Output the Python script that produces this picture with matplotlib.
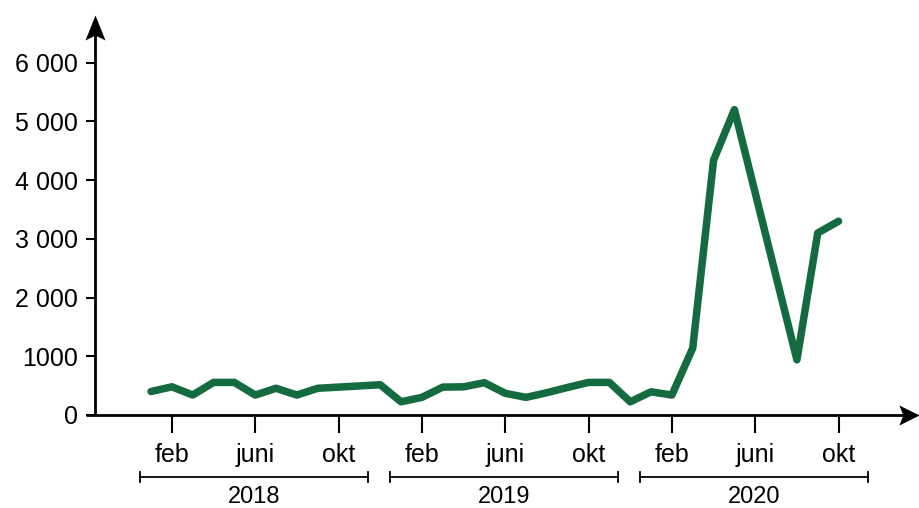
import matplotlib.pyplot as plt
from matplotlib.path import Path
from matplotlib.transforms import blended_transform_factory

plt.rcParams["font.family"] = ["Liberation Sans", "DejaVu Sans"]

# monthly values, jan 2018 - okt 2020
values_2018 = [400, 480, 340, 555, 555, 340, 455, 340, 455, 475, 495, 515]
values_2019 = [225, 300, 475, 480, 550, 370, 300, 380, 470, 555, 555, 225]
values_2020 = [395, 340, 1140, 4340, 5200, 3780, 2360, 940, 3100, 3300]
years = ["2018", "2019", "2020"]
month_labels = ["feb", "juni", "okt"]
month_ticks = [1, 5, 9]
y_ticks = [0, 1000, 2000, 3000, 4000, 5000, 6000]
y_labels = ["0", "1000", "2 000", "3 000", "4 000", "5 000", "6 000"]

values = values_2018 + values_2019 + values_2020
months = list(range(len(values)))

GREEN = "#136b3f"

fig = plt.figure(figsize=(9.19, 5.08), dpi=100)
ax = fig.add_axes([95 / 919, 93 / 508, 824 / 919, 400 / 508])

ax.plot(months, values, color=GREEN, lw=5.4, solid_capstyle="round",
        solid_joinstyle="round", zorder=3)

ax.set_xlim(-2.69, 36.86)
ax.set_ylim(0, 6812)

for s in ax.spines.values():
    s.set_visible(False)

# axis lines with arrow heads
ax.plot([-0.011, 0.985], [0, 0], transform=ax.transAxes, color="black",
        lw=2, clip_on=False, solid_capstyle="butt")
ax.plot([0, 0], [0, 0.97], transform=ax.transAxes, color="black",
        lw=2, clip_on=False, solid_capstyle="butt")
head_x = Path([(0, 0), (-1, 0.5), (-0.8, 0), (-1, -0.5), (0, 0)],
              [Path.MOVETO, Path.LINETO, Path.LINETO, Path.LINETO, Path.CLOSEPOLY])
head_y = Path([(0, 0), (-0.4, -1), (0, -0.8), (0.4, -1), (0, 0)],
              [Path.MOVETO, Path.LINETO, Path.LINETO, Path.LINETO, Path.CLOSEPOLY])
ax.plot([1], [0], marker=head_x, ms=29, color="black", mew=0,
        transform=ax.transAxes, clip_on=False)
ax.plot([0], [1], marker=head_y, ms=36, color="black", mew=0,
        transform=ax.transAxes, clip_on=False)

ax.set_yticks(y_ticks)
ax.set_yticklabels(y_labels)
xt = [12 * i + m for i in range(len(years)) for m in month_ticks]
ax.set_xticks(xt)
ax.set_xticklabels(month_labels * len(years))
ax.tick_params(axis="y", length=6.5, width=1.5, pad=6, labelsize=18)
ax.tick_params(axis="x", length=13, width=1.5, pad=7, labelsize=18)

# year brackets under the month labels
trans = blended_transform_factory(ax.transData, ax.transAxes)
for i, year in enumerate(years):
    x0, x1 = 12 * i - 0.55, 12 * i + 10.4
    ax.plot([x0, x1], [-0.155, -0.155], transform=trans, color="black",
            lw=1.3, clip_on=False)
    for xe in (x0, x1):
        ax.plot([xe, xe], [-0.167, -0.143], transform=trans, color="black",
                lw=1.3, clip_on=False)
    ax.text((x0 + x1) / 2, -0.2315, year, transform=trans, ha="center",
            va="bottom", fontsize=17)

fig.savefig("out.png", dpi=100)
